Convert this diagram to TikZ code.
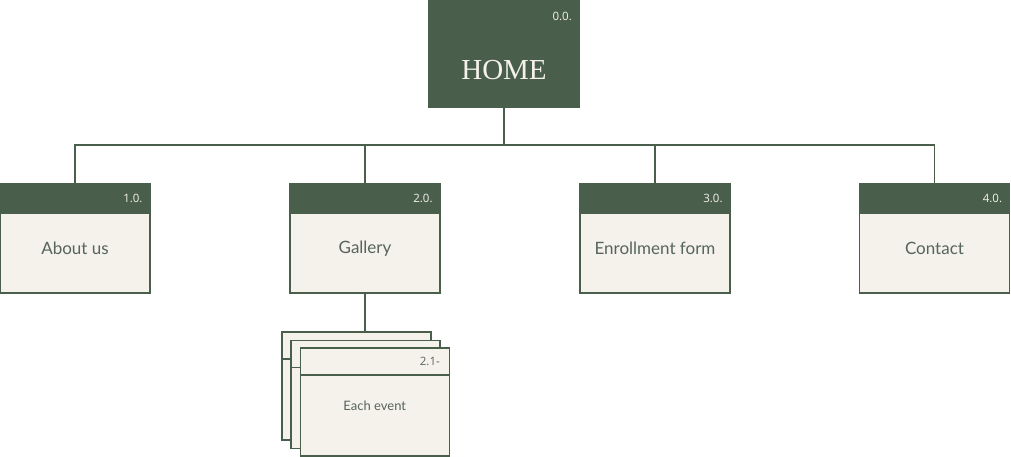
\documentclass[tikz,border=0pt]{standalone}
\usepackage{fontspec}
\setmainfont{Lato}
\newfontfamily\homefont{Liberation Serif}
\newfontfamily\numfont{Open Sans}
\definecolor{moss}{HTML}{4A5E4C}
\definecolor{cream}{HTML}{F5F1EB}
\definecolor{inkgray}{HTML}{56655A}
\begin{document}
\begin{tikzpicture}[
  x=1pt, y=-1pt,
  rel/.style={draw=moss, line width=1.5pt},
  page/.style={draw=moss, line width=1.5pt, fill=cream, minimum width=150pt,
    minimum height=109pt, inner sep=0pt},
  band/.style={fill=moss, draw=moss, line width=1.5pt, minimum width=150pt,
    minimum height=29pt, inner sep=0pt, anchor=north},
  num/.style={font=\numfont\fontsize{11.5}{13}\selectfont, inner sep=0pt, anchor=north east},
  sheet/.style={draw=moss, line width=1.5pt, fill=cream, minimum width=149pt,
    minimum height=108pt, inner sep=0pt, anchor=north west}
]
\useasboundingbox (0,0) rectangle (1011,456);

% home
\node[fill=moss, minimum width=152pt, minimum height=108pt, inner sep=0pt] (home) at (504,54) {};
\node[text=cream, font=\homefont\fontsize{29}{32}\selectfont, inner sep=0pt] at (504,70) {HOME};
\node[num, text=cream] at (572,12) {0.0.};

% first level pages
\node[page] (about) at (75,238.5) {};
\node[page] (gall)  at (365,238.5) {};
\node[page] (enrol) at (655,238.5) {};
\node[page] (cont)  at (934.5,238.5) {};
\foreach \pg/\txt/\nr in {about/About us/1.0., gall/Gallery/2.0.,
    enrol/Enrollment form/3.0., cont/Contact/4.0.}{
  \node[band] (\pg-hdr) at (\pg.north) {};
  \node[num, text=cream] at ([xshift=-8pt, yshift=-11pt]\pg.north east) {\nr};
  \node[text=inkgray, font=\fontsize{17}{20}\selectfont, inner sep=0pt]
    at ([yshift=-10pt]\pg.center) {\txt};
}

% events stack
\node[sheet] (evA) at (281,331) {};
\draw[rel] ([yshift=-28pt]evA.north west) -- ([yshift=-28pt]evA.north east);
\node[sheet] (evB) at (290,339.5) {};
\draw[rel] ([yshift=-28pt]evB.north west) -- ([yshift=-28pt]evB.north east);
\node[sheet] (evC) at (299.5,347) {};
\draw[rel] ([yshift=-28pt]evC.north west) -- ([yshift=-28pt]evC.north east);
\node[num, text=inkgray, font=\numfont\fontsize{11.5}{13}\selectfont]
  at ([xshift=-10pt, yshift=-10pt]evC.north east) {2.1-};
\node[text=inkgray, font=\fontsize{13}{15}\selectfont, inner sep=0pt]
  at ([yshift=-4pt]evC.center) {Each event};

% connectors
\coordinate (hub) at (504,145);
\draw[rel] (home.south) -- (hub);
\draw[rel] (hub) -| (about.north);
\draw[rel] (hub) -| (gall.north);
\draw[rel] (hub) -| (enrol.north);
\draw[rel] (hub) -| (cont.north);
\draw[rel] (gall.south) -- (evA.north -| gall.south);
\end{tikzpicture}
\end{document}
